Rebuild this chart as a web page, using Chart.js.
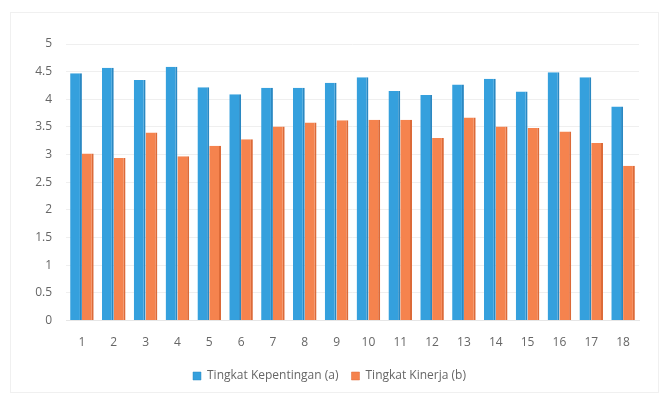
<!DOCTYPE html>
<html>
<head>
<meta charset="utf-8">
<script src="https://cdn.jsdelivr.net/npm/chart.js@4.4.1/dist/chart.umd.min.js"></script>
<style>
  html, body { margin: 0; padding: 0; background: #fff; }
  #wrap { width: 669px; height: 398px; position: relative; }
</style>
</head>
<body>
<div id="wrap"><canvas id="myChart"></canvas></div>
<script>
// categories and series
const categories = ['1','2','3','4','5','6','7','8','9','10','11','12','13','14','15','16','17','18'];
const kepentingan = [4.47, 4.57, 4.35, 4.59, 4.22, 4.09, 4.21, 4.21, 4.30, 4.40, 4.15, 4.08, 4.27, 4.37, 4.14, 4.49, 4.40, 3.87];
const kinerja = [3.02, 2.94, 3.40, 2.97, 3.16, 3.28, 3.51, 3.58, 3.62, 3.63, 3.63, 3.30, 3.67, 3.51, 3.48, 3.42, 3.21, 2.80];
const yTicks = [0, 0.5, 1, 1.5, 2, 2.5, 3, 3.5, 4, 4.5, 5];

const labelFont = { family: 'Open Sans', size: 12 };

// faint frame around the chart, like the scanned original
const framePlugin = {
  id: 'frame',
  beforeDraw(chart) {
    const ctx = chart.ctx;
    ctx.save();
    ctx.strokeStyle = '#f0f0f0';
    ctx.lineWidth = 1;
    ctx.strokeRect(10.5, 12.5, 648, 380);
    ctx.restore();
  }
};

window.addEventListener('DOMContentLoaded', function() {
  const ctx = document.getElementById('myChart').getContext('2d');
  new Chart(ctx, {
    type: 'bar',
    data: {
      labels: categories,
      datasets: [{
        label: 'Tingkat Kepentingan (a)',
        data: kepentingan,
        backgroundColor: '#35a0dd',
        borderColor: '#2a88c2',
        borderWidth: { right: 2 },
        borderSkipped: false
      }, {
        label: 'Tingkat Kinerja (b)',
        data: kinerja,
        backgroundColor: '#f5834e',
        borderColor: '#dc6a38',
        borderWidth: { right: 2 },
        borderSkipped: false
      }]
    },
    options: {
      responsive: true,
      maintainAspectRatio: false,
      animation: false,
      layout: { padding: { left: 20, right: 30, top: 44, bottom: 6 } },
      datasets: { bar: { categoryPercentage: 0.74, barPercentage: 1.0 } },
      scales: {
        x: {
          grid: { display: false },
          border: { display: true, color: '#e6e6e6' },
          ticks: { color: '#666', font: labelFont, padding: 7 }
        },
        y: {
          min: 0,
          max: 5,
          afterBuildTicks: function(axis) {
            axis.ticks = yTicks.map(v => ({ value: v }));
          },
          afterFit: function(axis) { axis.width = 46; },
          grid: { color: '#efefef', drawTicks: false },
          border: { display: false },
          ticks: {
            color: '#666',
            font: labelFont,
            padding: 14,
            callback: function(value) { return String(value); }
          }
        }
      },
      plugins: {
        legend: {
          position: 'bottom',
          labels: {
            color: '#666',
            font: labelFont,
            boxWidth: 8,
            boxHeight: 8,
            padding: 13
          }
        },
        tooltip: { enabled: false }
      }
    },
    plugins: [framePlugin]
  });
});
</script>
</body>
</html>
